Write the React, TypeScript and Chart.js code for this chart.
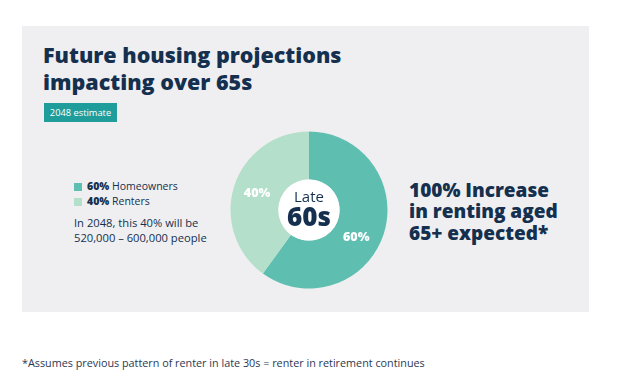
import React, { useEffect, useRef } from "react";
import { Chart, registerables } from "chart.js";

Chart.register(...registerables);

// ---- data ----
const categories = ["Homeowners", "Renters"];
const shares = [60, 40];
const sliceColors = ["#5ebfb1", "#b4dfca"];
const titleLines = ["Future housing projections", "impacting over 65s"];
const badgeText = "2048 estimate";
const centerLabel = ["Late", "60s"];
const noteLines = ["In 2048, this 40% will be", "520,000 – 600,000 people"];
const calloutLines = ["100% Increase", "in renting aged", "65+ expected*"];
const footnote = "*Assumes previous pattern of renter in late 30s = renter in retirement continues";

const NAVY = "#15304f";
const FONT = "'Open Sans', sans-serif";
// per-slice label rotation nudge (degrees, style only)
const LABEL_SHIFT = [12, 0];

const holePlugin = {
  id: "hole",
  afterDatasetsDraw(chart: any) {
    const meta = chart.getDatasetMeta(0);
    const arc = meta.data[0];
    if (!arc) return;
    const ctx = chart.ctx;
    ctx.save();
    ctx.beginPath();
    ctx.arc(arc.x, arc.y, arc.innerRadius, 0, Math.PI * 2);
    ctx.fillStyle = "#ffffff";
    ctx.fill();
    // slice labels
    ctx.font = `800 12.5px ${FONT}`;
    ctx.fillStyle = "#ffffff";
    ctx.textAlign = "center";
    ctx.textBaseline = "middle";
    meta.data.forEach((a: any, i: number) => {
      const mid = (a.startAngle + a.endAngle) / 2 + (LABEL_SHIFT[i] * Math.PI) / 180;
      const r = (a.innerRadius + a.outerRadius) / 2;
      ctx.fillText(shares[i] + "%", a.x + Math.cos(mid) * r, a.y + Math.sin(mid) * r);
    });
    // centre label
    ctx.fillStyle = NAVY;
    ctx.textBaseline = "alphabetic";
    ctx.font = `400 15px ${FONT}`;
    ctx.fillText(centerLabel[0], arc.x, arc.y - 8);
    ctx.font = `800 26px ${FONT}`;
    ctx.fillText(centerLabel[1], arc.x, arc.y + 15.5);
    ctx.restore();
  },
};

function Block({ lines, left, top, size, lineHeight, weight = 400, color = NAVY }: any) {
  return (
    <div
      style={{
        position: "absolute",
        left,
        top,
        fontSize: size,
        lineHeight: `${lineHeight}px`,
        fontWeight: weight,
        color,
        fontFamily: FONT,
        whiteSpace: "pre",
      }}
    >
      {lines.join("\n")}
    </div>
  );
}

export default function App() {
  const ref = useRef<HTMLCanvasElement>(null);
  useEffect(() => {
    if (!ref.current) return;
    const chart = new Chart(ref.current, {
      type: "doughnut",
      data: {
        labels: categories,
        datasets: [
          {
            data: shares,
            backgroundColor: sliceColors,
            borderWidth: 0,
            radius: 78.5,
            cutout: 39,
          } as any,
        ],
      },
      options: {
        responsive: false,
        animation: false,
        events: [],
        layout: { padding: 0 },
        plugins: { legend: { display: false }, tooltip: { enabled: false } },
      },
      plugins: [holePlugin],
    });
    return () => chart.destroy();
  }, []);

  return (
    <div style={{ position: "fixed", left: 0, top: 0, width: 618, height: 380, background: "#fff", overflow: "hidden" }}>
      <div style={{ position: "absolute", left: 22, top: 26, width: 567, height: 286, background: "#efeff1" }} />
      <Block lines={titleLines} left={43} top={40.7} size={21.5} lineHeight={27} weight={800} />
      <div
        style={{
          position: "absolute",
          left: 44,
          top: 103,
          width: 73,
          height: 19,
          background: "#1e9d9b",
          color: "#fff",
          fontFamily: FONT,
          fontSize: 9.3,
          lineHeight: "19px",
          textAlign: "center",
        }}
      >
        {badgeText}
      </div>
      {categories.map((c, i) => (
        <React.Fragment key={c}>
          <div style={{ position: "absolute", left: 74, top: 183 + i * 15, width: 8, height: 8, background: sliceColors[i] }} />
          <div
            style={{
              position: "absolute",
              left: 87,
              top: 191 + i * 15 - 11.8,
              fontSize: 10.5,
              lineHeight: "15px",
              color: NAVY,
              fontFamily: FONT,
              whiteSpace: "nowrap",
            }}
          >
            <b style={{ fontWeight: 800 }}>{shares[i]}%</b> {c}
          </div>
        </React.Fragment>
      ))}
      <Block lines={noteLines} left={74} top={215.2} size={11.2} lineHeight={15} />
      <canvas ref={ref} width={200} height={200} style={{ position: "absolute", left: 209, top: 110, width: 200, height: 200 }} />
      <Block lines={calloutLines} left={409} top={179.9} size={19} lineHeight={21.5} weight={800} />
      <div
        style={{
          position: "absolute",
          left: 22,
          top: 368 - 11.6,
          fontSize: 10.8,
          lineHeight: "14px",
          color: "#2c3852",
          fontFamily: FONT,
          whiteSpace: "nowrap",
        }}
      >
        {footnote}
      </div>
    </div>
  );
}
